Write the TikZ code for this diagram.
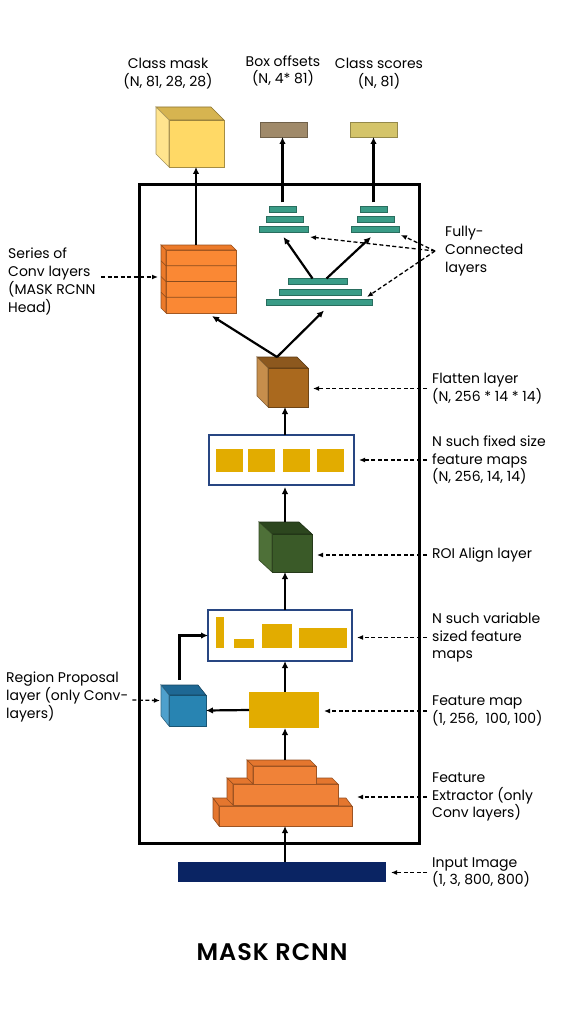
\documentclass[tikz,border=0pt]{standalone}
\usepackage{fontspec}
\setmainfont{Poppins}
\newfontfamily\titlefont{Poppins SemiBold}
\usetikzlibrary{arrows.meta,calc,positioning}
\definecolor{inpnavy}{RGB}{10,36,99}
\definecolor{pyrorange}{RGB}{240,130,56}
\definecolor{pyrtop}{RGB}{228,118,46}
\definecolor{fmapyellow}{RGB}{226,172,0}
\definecolor{rpnblue}{RGB}{40,132,178}
\definecolor{rpntop}{RGB}{30,104,148}
\definecolor{rpnside}{RGB}{78,160,204}
\definecolor{roigreen}{RGB}{58,90,40}
\definecolor{roitop}{RGB}{44,70,30}
\definecolor{roiside}{RGB}{78,112,56}
\definecolor{flatbrown}{RGB}{170,105,30}
\definecolor{flattop}{RGB}{140,88,30}
\definecolor{flatside}{RGB}{198,142,76}
\definecolor{headorange}{RGB}{250,136,52}
\definecolor{headtop}{RGB}{236,122,42}
\definecolor{maskyellow}{RGB}{255,217,102}
\definecolor{masktop}{RGB}{214,180,80}
\definecolor{maskside}{RGB}{255,228,142}
\definecolor{boxtaupe}{RGB}{160,138,106}
\definecolor{scorekhaki}{RGB}{212,196,106}
\definecolor{fcteal}{RGB}{58,156,135}
\definecolor{holderblue}{RGB}{40,70,130}
\tikzset{
  solidarr/.style={-{Latex[length=7pt,width=6.5pt]}, line width=2.2pt},
  dasharr/.style={-{Latex[length=6pt,width=5pt]}, line width=1.3pt,
                  dash pattern=on 4pt off 2.5pt},
  lbl/.style={font=\fontsize{14}{17.8}\selectfont, align=left, anchor=west, inner sep=0pt},
  toplbl/.style={font=\fontsize{14}{17.8}\selectfont, align=center, inner sep=0pt},
  cubefront/.style={draw=#1!65!black, fill=#1, line width=0.6pt, inner sep=0pt, outer sep=0pt},
  flatbox/.style={fill=#1, inner sep=0pt, outer sep=0pt},
  holder/.style={draw=holderblue, line width=1.6pt, inner sep=0pt, outer sep=0pt},
  fcbar/.style={draw=fcteal!70!black, fill=fcteal, line width=0.5pt, inner sep=0pt,
                outer sep=0pt, minimum height=6pt},
  outbar/.style={draw=#1!70!black, fill=#1, line width=0.6pt, inner sep=0pt,
                 outer sep=0pt, minimum width=47pt, minimum height=15pt},
}
% top and left faces of a box whose front face is node #1
\newcommand{\cubefaces}[5]{%
  \filldraw[fill=#4, draw=#4!65!black, line width=0.6pt]
    (#1.north west) -- ++(#2,#3) -- ($(#1.north east)+(#2,#3)$) -- (#1.north east) -- cycle;
  \filldraw[fill=#5, draw=#5!65!black, line width=0.6pt]
    (#1.north west) -- ++(#2,#3) -- ($(#1.south west)+(#2,#3)$) -- (#1.south west) -- cycle;
  \coordinate (#1-t) at ($(#1.north)+(#2,#3)$);
}
\begin{document}
\begin{tikzpicture}[x=1pt,y=-1pt]
  \useasboundingbox (0,0) rectangle (576,1024);
  \coordinate (col) at (285,0);

  % Frame
  \draw[line width=3pt] (139,185) rectangle (419,843);

  % Input and feature extractor
  \node[flatbox=inpnavy, minimum width=208pt, minimum height=20pt] (inp) at (282,872) {};
  \node[cubefront=pyrorange, minimum width=133pt, minimum height=20pt] (pyrA) at (285.5,816) {};
  \cubefaces{pyrA}{-6}{-8}{pyrtop}{pyrtop}
  \node[cubefront=pyrorange, minimum width=105pt, minimum height=21pt] (pyrB) at (285.5,794.5) {};
  \cubefaces{pyrB}{-6}{-6}{pyrtop}{pyrtop}
  \node[cubefront=pyrorange, minimum width=63pt, minimum height=18pt] (pyrC) at (284.5,775) {};
  \cubefaces{pyrC}{-6}{-6}{pyrtop}{pyrtop}
  \draw[solidarr] (col |- inp.north) -- (col |- pyrA.south);

  % Feature map and region proposal
  \node[flatbox=fmapyellow, minimum width=70pt, minimum height=36pt] (fmap) at (284,710) {};
  \draw[solidarr] (col |- pyrC-t) -- (col |- fmap.south);
  \node[cubefront=rpnblue, minimum width=37pt, minimum height=31pt] (rpn) at (187.5,710.5) {};
  \cubefaces{rpn}{-8}{-10}{rpntop}{rpnside}
  \draw[solidarr] (fmap.west) -- (rpn.east);

  % Variable sized maps
  \node[holder, minimum width=144pt, minimum height=51pt] (var) at (280,635.5) {};
  \foreach \xa/\ya/\xb in {216/617/224, 234/639/254, 262/624/292, 299/628/347}
    \fill[fmapyellow] (\xa,\ya) rectangle (\xb,648);
  \draw[solidarr] (col |- fmap.north) -- (col |- var.south);
  \draw[solidarr, shorten <=5pt] (rpn-t) |- (var.west);

  % ROI align
  \node[cubefront=roigreen, minimum width=40pt, minimum height=38pt] (roi) at (292,553) {};
  \cubefaces{roi}{-13}{-12}{roitop}{roiside}
  \draw[solidarr] (col |- var.north) -- (col |- roi.south);

  % Fixed size maps
  \node[holder, minimum width=145pt, minimum height=50pt] (fixed) at (281.5,460) {};
  \foreach \xa in {216,248,283,317}
    \fill[fmapyellow] (\xa,449) rectangle ++(27,23);
  \draw[solidarr, shorten >=2pt] (col |- roi-t) -- (col |- fixed.south);

  % Flatten
  \node[cubefront=flatbrown, minimum width=40pt, minimum height=39pt] (flat) at (288,387.5) {};
  \cubefaces{flat}{-11}{-11}{flattop}{flatside}
  \draw[solidarr] (col |- fixed.north) -- (col |- flat.south);

  % Mask head
  \node[cubefront=headorange, minimum width=70pt, minimum height=63pt] (head) at (201,281.5) {};
  \cubefaces{head}{-5}{-5}{headtop}{headtop}
  \foreach \k in {1,2,3}
    \draw[headorange!55!black, line width=0.6pt]
      ($(head.north west)!\k/4!(head.south west)+(-5,-5)$) --
      ($(head.north west)!\k/4!(head.south west)$) --
      ($(head.north east)!\k/4!(head.south east)$);

  % Fully connected layers
  \foreach \n/\w/\x/\y in {1/27/282.5/209.5, 2/37/284.5/219, 3/49/283.5/229}
    \node[fcbar, minimum width=\w*1pt] (fcL\n) at (\x,\y) {};
  \foreach \n/\w/\x/\y in {1/27/373.5/209.5, 2/37/375.5/219, 3/48/375/229}
    \node[fcbar, minimum width=\w*1pt] (fcR\n) at (\x,\y) {};
  \foreach \n/\w/\x/\y in {1/59/317.5/281.5, 2/82/320/292, 3/106/319/302.5}
    \node[fcbar, minimum width=\w*1pt] (fcB\n) at (\x,\y) {};
  \draw[solidarr] ($(fcB1.north)+(-5,0)$) -- ($(fcL3.south)+(0,5)$);
  \draw[solidarr] ($(fcB1.north)+(9,0)$) -- ($(fcR3.south)+(-4,5)$);
  \draw[solidarr] (flat-t) -- ($(head.south)+(11,3)$);
  \draw[solidarr] (flat-t) -- ($(fcB3.south)+(5,5)$);

  % Outputs
  \node[cubefront=maskyellow, minimum width=55pt, minimum height=47pt] (mask) at (196.5,143.5) {};
  \cubefaces{mask}{-13}{-13}{masktop}{maskside}
  \node[outbar=boxtaupe] (boxoff) at (283.5,129.5) {};
  \node[outbar=scorekhaki] (score) at (373.5,129.5) {};
  \draw[solidarr] (head-t) -- (head-t |- mask.south);
  \draw[solidarr, shorten <=4pt] (fcL1.north) -- (fcL1.north |- boxoff.south);
  \draw[solidarr, shorten <=4pt] (fcR1.north) -- (fcR1.north |- score.south);
  \node[toplbl] (lmask) at (168,74) {Class mask\\(N, 81, 28, 28)};
  \node[toplbl] (lboxoff) at (283,71) {Box offsets\\(N, 4* 81)};
  \node[toplbl] (lscore) at (379,74) {Class scores\\(N, 81)};

  % Labels, right
  \node[lbl] (lfc) at (445,251) {Fully-\\Connected\\layers};
  \foreach \tgt/\sx/\sy in {fcL3/2/5, fcR3/2/3, fcB2/6/2}
    \draw[dasharr] ([xshift=-10pt]lfc.west) -- ($(\tgt.south east)+(\sx,\sy)$);
  \node[lbl] (lflat) at (432,388.5) {Flatten layer\\(N, 256 * 14 * 14)};
  \node[lbl] (lfixed) at (432,460) {N such fixed size\\feature maps\\(N, 256, 14, 14)};
  \node[lbl] (lroi) at (432,555) {ROI Align layer};
  \node[lbl] (lvar) at (432,637.5) {N such variable\\sized feature\\maps};
  \node[lbl] (lfmap) at (432,711) {Feature map\\(1, 256,\ \ 100, 100)};
  \node[lbl] (lext) at (432,797) {Feature\\Extractor (only\\Conv layers)};
  \node[lbl] (linp) at (432,872.5) {Input Image\\(1, 3, 800, 800)};
  \foreach \l/\t in {lflat/flat, lfixed/fixed, lroi/roi, lvar/var, lfmap/fmap, lext/pyrA, linp/inp}
    \draw[dasharr, shorten <=5pt, shorten >=5pt] (\l.west) -- (\l.west -| \t.east);

  % Labels, left
  \node[lbl] (lhead) at (8,281.5) {Series of\\Conv layers\\(MASK RCNN\\Head)};
  \draw[dasharr] ($(lhead.west)+(93,-4.5)$) -- ($(head.west)+(-8,-4.5)$);
  \node[lbl] (lrpn) at (6,697) {Region Proposal\\layer (only Conv-\\layers)};
  \draw[dasharr] ($(lrpn.east)+(4,3)$) -- ($(rpn.west)+(-9,-10)$);

  % Title
  \node[font=\titlefont\fontsize{24}{28}\selectfont] (title) at (272,952)
    {\addfontfeatures{LetterSpace=4}MASK RCNN};
\end{tikzpicture}
\end{document}
